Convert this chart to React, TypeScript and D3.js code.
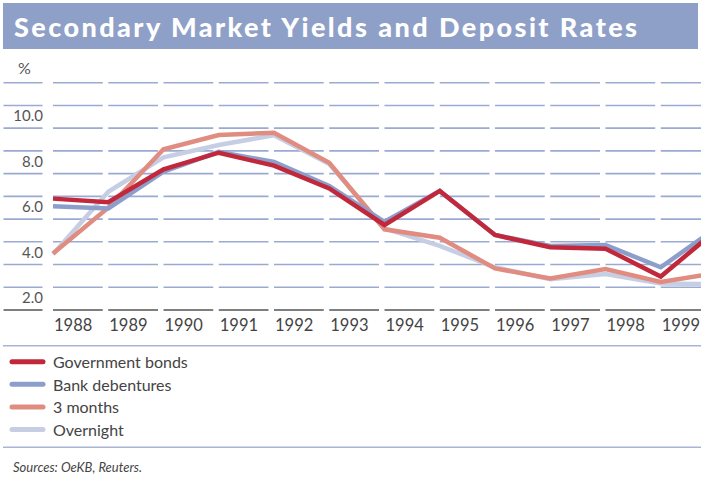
import React from "react";
import * as d3 from "d3";

const years = ["1988","1989","1990","1991","1992","1993","1994","1995","1996","1997","1998","1999"];
// points at the start of each year column; last value continues toward 2000 (clipped at edge)
const pointYears = [1988,1989,1990,1991,1992,1993,1994,1995,1996,1997,1998,1999,2000];
const govBonds = [6.9,6.74,8.19,8.92,8.35,7.35,5.74,7.24,5.3,4.76,4.7,3.47,5.5];
const bankDebentures = [6.56,6.47,8.09,8.96,8.51,7.46,5.88,7.24,5.3,4.82,4.86,3.88,5.6];
const threeMonths = [4.49,6.5,9.07,9.7,9.8,8.48,5.55,5.18,3.83,3.39,3.8,3.23,3.63];
const overnight = [4.45,7.2,8.72,9.26,9.69,8.42,5.59,4.82,3.88,3.35,3.58,3.17,3.14];
const yTicks = [2,4,6,8,10];
const gridValues = [2,3,4,5,6,7,8,9,10,11,12];

const series = [
  { name: "Overnight", values: overnight, color: "#c6cee4" },
  { name: "3 months", values: threeMonths, color: "#e08c80" },
  { name: "Bank debentures", values: bankDebentures, color: "#8c9eca" },
  { name: "Government bonds", values: govBonds, color: "#c1283b" },
];
const legendOrder = ["Government bonds", "Bank debentures", "3 months", "Overnight"];

export default function App() {
  const W = 701, H = 477;
  const x = d3.scaleLinear().domain([1988, 2000]).range([53, 716]);
  const y = d3.scaleLinear().domain([2, 12]).range([310, 82.7]);
  const line = d3.line<number>().x((_, i) => x(pointYears[i])).y(d => y(d));
  const font = "Lato, 'Open Sans', sans-serif";
  const colW = x(1989) - x(1988);

  return (
    <svg width={W} height={H} style={{ position: "absolute", left: 0, top: 0 }} fontFamily={font}>
      <rect x={0} y={0} width={W} height={H} fill="#fff" />
      <rect x={3} y={3} width={695} height={46} fill="#8fa0c8" />
      <text x={14} y={37} fill="#fff" fontSize={27} fontWeight={900} textLength={623} lengthAdjust="spacing">
        Secondary Market Yields and Deposit Rates
      </text>
      <text x={18} y={74} fill="#555" fontSize={16}>%</text>

      {gridValues.map(v => (
        <g key={v}>
          <line x1={3.5} x2={42.5} y1={y(v)} y2={y(v)} stroke={v === 2 ? "#555" : "#9aaad2"} strokeWidth={1.6} />
          {years.map(yr => (
            <line key={yr} x1={x(+yr)} x2={x(+yr) + colW - 5.5} y1={y(v)} y2={y(v)}
              stroke={v === 2 ? "#555" : "#9aaad2"} strokeWidth={1.6} />
          ))}
        </g>
      ))}
      {yTicks.map(v => (
        <text key={v} x={43} y={y(v) - 13} textAnchor="end" dominantBaseline="central" fill="#555" fontSize={15}>
          {v.toFixed(1)}
        </text>
      ))}
      {years.map(yr => (
        <text key={yr} x={x(+yr) + 1} y={325} dominantBaseline="central" fill="#444" fontSize={16.5}>{yr}</text>
      ))}

      <g>
        {series.map(s => (
          <path key={s.name} d={line(s.values) || ""} fill="none" stroke={s.color} strokeWidth={4.5} strokeLinejoin="miter" />
        ))}
      </g>

      <line x1={3} x2={W} y1={345.7} y2={345.7} stroke="#a9b5d6" strokeWidth={1.6} />
      {legendOrder.map((n, i) => {
        const s = series.find(d => d.name === n)!;
        const ly = 361.7 + i * 22.6;
        return (
          <g key={n}>
            <line x1={12} x2={43} y1={ly} y2={ly} stroke={s.color} strokeWidth={5} strokeLinecap="round" />
            <text x={53} y={ly} dominantBaseline="central" fill="#444" fontSize={16}>{n}</text>
          </g>
        );
      })}
      <line x1={3} x2={W} y1={447.3} y2={447.3} stroke="#a9b5d6" strokeWidth={1.6} />
      <text x={13} y={467} dominantBaseline="central" fill="#444" fontSize={13} fontStyle="italic">Sources: OeKB, Reuters.</text>
    </svg>
  );
}
